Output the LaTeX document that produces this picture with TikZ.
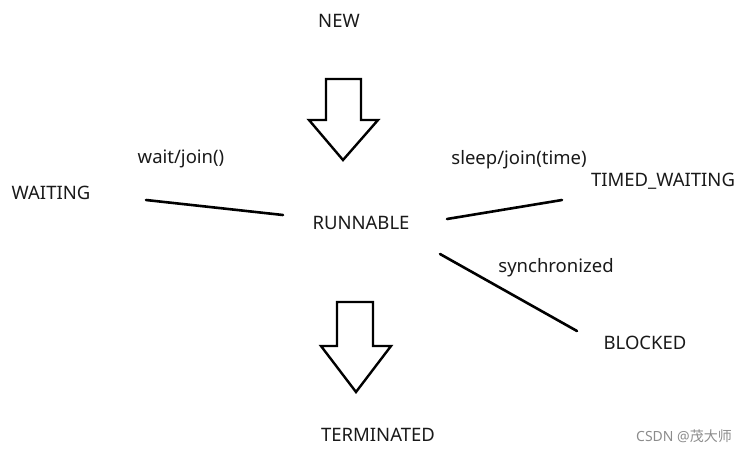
\documentclass[tikz,border=0pt]{standalone}
\usepackage{fontspec}
\setmainfont{Noto Sans}
\newfontfamily\cjk{Noto Sans CJK SC}
\begin{document}
\begin{tikzpicture}[x=1pt,y=-1pt,
  lbl/.style={font=\fontsize{18.5}{22}\selectfont, inner sep=0pt, text=black!90},
  conn/.style={line width=2.6pt, line cap=round},
  bigarrow/.style={line width=2.4pt, line join=miter, fill=white}]
\useasboundingbox (0,0) rectangle (748,451);
\node[lbl] (new) at (339,21) {NEW};
\node[lbl] (run) at (361,223) {RUNNABLE};
\node[lbl] (wait) at (51,193) {WAITING};
\node[lbl] (timed) at (663,181) {TIMED\_WAITING};
\node[lbl] (blocked) at (645,343) {BLOCKED};
\node[lbl] (term) at (378,435) {TERMINATED};
\node[lbl] (lwait) at (181,159) {wait/join()};
\node[lbl] (lsleep) at (519,160) {sleep/join(time)};
\node[lbl] (lsync) at (556,268) {synchronized};
\node[font=\fontsize{14}{16}\selectfont, text=black!45, anchor=east, inner sep=0pt] (mark) at (732,436) {CSDN @{\cjk 茂大师}};
% connectors
\coordinate (w1) at (146,200); \coordinate (w2) at (283,215);
\coordinate (t1) at (447,219); \coordinate (t2) at (562,200);
\coordinate (b1) at (440,254); \coordinate (b2) at (577,331);
\draw[conn] (w1) -- (w2);
\draw[conn] (t1) -- (t2);
\draw[conn] (b1) -- (b2);
% big arrows
\draw[bigarrow] (326,79) -- (361,79) -- (361,120) -- (378,120) -- (343,160) -- (309,120) -- (326,120) -- cycle;
\draw[bigarrow] (337,302) -- (373,302) -- (373,346) -- (391,346) -- (356,392) -- (321,346) -- (337,346) -- cycle;
\end{tikzpicture}
\end{document}
